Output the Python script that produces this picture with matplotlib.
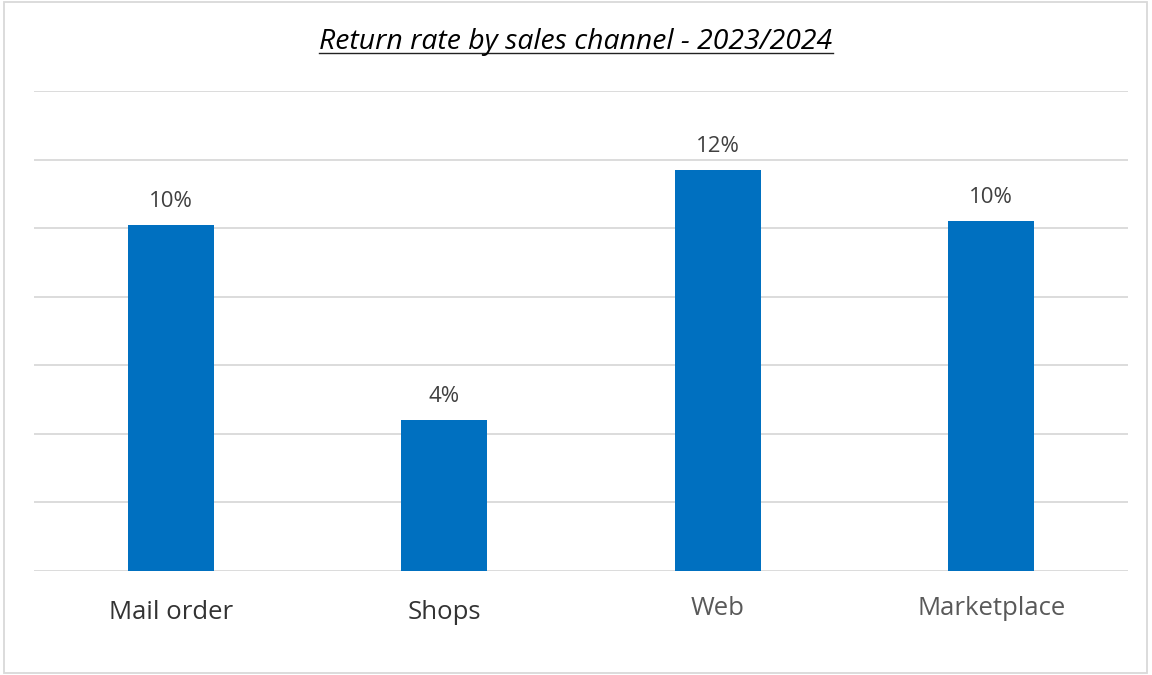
import matplotlib
matplotlib.use("Agg")
import matplotlib.pyplot as plt
from matplotlib.patches import Rectangle
from matplotlib.lines import Line2D
import numpy as np

# Return rate per sales channel (fraction)
channels = ["Mail order", "Shops", "Web", "Marketplace"]
return_rates = [0.101, 0.044, 0.117, 0.102]
grid_ticks = [0.0, 0.02, 0.04, 0.06, 0.08, 0.10, 0.12, 0.14]
title = "Return rate by sales channel - 2023/2024"

BAR_COLOR = "#0070C0"
GRID_COLOR = "#D9D9D9"
FONT = ["Open Sans", "DejaVu Sans"]

W, H = 1152, 675
PX = 72 / 100  # points per pixel at dpi=100
fig = plt.figure(figsize=(W / 100, H / 100), dpi=100)
fig.patch.set_facecolor("white")

# outer chart frame
fig.add_artist(Rectangle((4 / W, 2 / H), 1143 / W, 671 / H, transform=fig.transFigure,
                         fill=False, edgecolor="#D9D9D9", linewidth=1.3))

left, right = 34 / W, 1128 / W
bottom, top = 1 - 571 / H, 1 - 91 / H
ax = fig.add_axes([left, bottom, right - left, top - bottom])

x = np.arange(len(channels))
ax.bar(x, return_rates, width=0.314, color=BAR_COLOR, zorder=3)
ax.set_xlim(-0.5, len(channels) - 0.5)
ax.set_ylim(grid_ticks[0], grid_ticks[-1])
ax.set_yticks(grid_ticks)
ax.yaxis.grid(True, color=GRID_COLOR, linewidth=1.3, zorder=0)
ax.tick_params(axis="y", left=False, labelleft=False)
ax.tick_params(axis="x", bottom=False, labelbottom=False)
for s in ax.spines.values():
    s.set_visible(False)
ax.set_facecolor("none")

# value labels above bars
for xi, v in zip(x, return_rates):
    ax.annotate(f"{v:.0%}", (xi, v), xytext=(0, 18 * PX), textcoords="offset points",
                ha="center", va="baseline", fontsize=16, color="#404040", family=FONT)

# category labels
label_colors = ["#333333", "#333333", "#595959", "#595959"]
label_baselines = [48, 48, 44, 44]  # pixels below the axis baseline
for xi, name, c, off in zip(x, channels, label_colors, label_baselines):
    ax.annotate(name, (xi, 0), xytext=(0, -off * PX), textcoords="offset points",
                ha="center", va="baseline", fontsize=18.5, color=c, family=FONT)

# underlined italic title
t = fig.text(0.5, 1 - 49 / H, title, ha="center", va="baseline", fontsize=20.4,
             style="italic", color="black", family=FONT)
fig.canvas.draw()
bb = t.get_window_extent(renderer=fig.canvas.get_renderer())
uy = (H - 53) / H
fig.add_artist(Line2D([bb.x0 / W, bb.x1 / W], [uy, uy], transform=fig.transFigure,
                      color="#222222", linewidth=1.0))

fig.savefig("out.png", dpi=100, facecolor="white")
